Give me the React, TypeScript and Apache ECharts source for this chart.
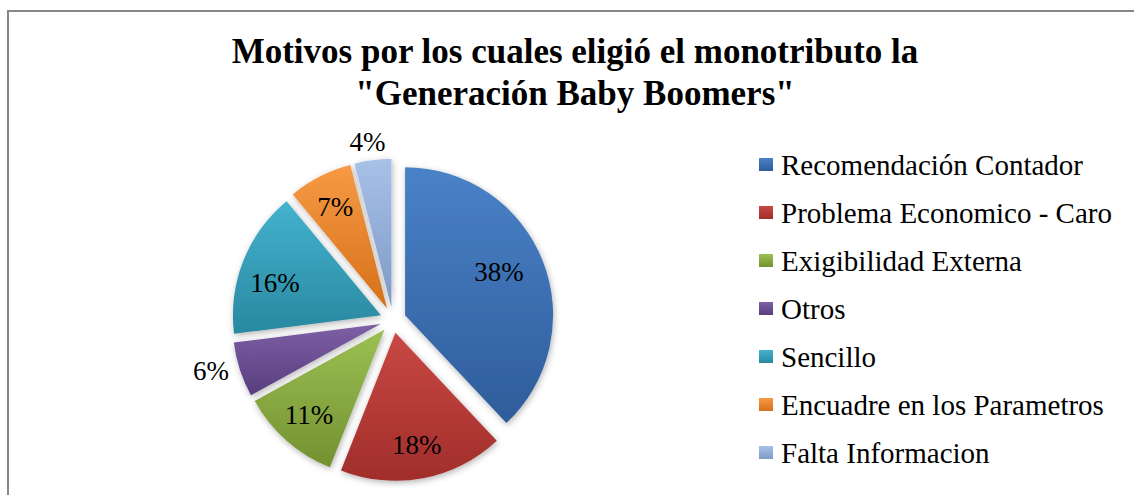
import React, { useEffect, useRef } from "react";
import * as echarts from "echarts";

const titleText = 'Motivos por los cuales eligió el monotributo la\n"Generación Baby Boomers"';
const categories = [
  "Recomendación Contador",
  "Problema Economico - Caro",
  "Exigibilidad Externa",
  "Otros",
  "Sencillo",
  "Encuadre en los Parametros",
  "Falta Informacion",
];
const values = [38, 18, 11, 6, 16, 7, 4];
const lightColors = ["#4a82c8", "#c94844", "#9cc053", "#7d60a5", "#44b2cf", "#f79a44", "#a7c1e8"];
const darkColors = ["#2e5c9a", "#a02e2b", "#739130", "#583d7e", "#29889f", "#d6701a", "#7d99c6"];

const SERIF = "'Liberation Serif', 'Times New Roman', serif";

export default function App() {
  const ref = useRef<HTMLDivElement>(null);
  useEffect(() => {
    if (!ref.current) return;
    const chart = echarts.init(ref.current, undefined, { renderer: "svg" });
    const grad = (i: number) =>
      new echarts.graphic.LinearGradient(0, 0, 0, 1, [
        { offset: 0, color: lightColors[i] },
        { offset: 1, color: darkColors[i] },
      ]);
    const visualData = categories.map((name, i) => ({
      name,
      value: values[i],
      selected: true,
      itemStyle: { color: grad(i) },
    }));
    const labelData = categories.map((name, i) => {
      const item: any = { name, value: values[i], selected: true };
      if (name === "Otros") {
        item.label = { position: "outside" };
        item.labelLine = { show: false, length: 3, length2: 3 };
      }
      if (name === "Falta Informacion") {
        item.label = { position: "outside" };
        item.labelLine = { show: false, length: 2, length2: 0 };
      }
      return item;
    });
    const pieCommon = {
      type: "pie" as const,
      center: [393, 320],
      startAngle: 90,
      clockwise: true,
      selectedMode: "multiple" as const,
      selectedOffset: 13,
      avoidLabelOverlap: false,
      emphasis: { scale: false },
    };
    chart.setOption({
      animation: false,
      graphic: [
        {
          type: "rect",
          shape: { x: 8, y: 11, width: 1160, height: 520 },
          style: { fill: "none", stroke: "#878787", lineWidth: 2 },
          silent: true,
        },
        {
          type: "text",
          x: 575,
          y: 30,
          style: {
            text: titleText,
            font: `bold 35px ${SERIF}`,
            fill: "#000",
            align: "center",
            verticalAlign: "top",
            lineHeight: 42,
          },
        },
      ],
      legend: {
        orient: "vertical",
        left: 759,
        top: 150,
        padding: 0,
        itemWidth: 14,
        itemHeight: 13,
        itemGap: 19,
        icon: "rect",
        selectedMode: false,
        data: categories,
        textStyle: {
          fontFamily: SERIF,
          fontSize: 29,
          lineHeight: 29,
          color: "#000",
          padding: [0, 0, 0, 3],
        },
      },
      series: [
        {
          ...pieCommon,
          name: "slices",
          radius: [0, 148],
          label: { show: false },
          labelLine: { show: false },
          itemStyle: {
            shadowBlur: 6,
            shadowColor: "rgba(0,0,0,0.3)",
            shadowOffsetX: 1,
            shadowOffsetY: 2,
          },
          data: visualData,
        },
        {
          ...pieCommon,
          name: "labels",
          radius: [74, 148],
          silent: true,
          legendHoverLink: false,
          itemStyle: { color: "rgba(0,0,0,0)" },
          label: {
            show: true,
            position: "inside",
            formatter: "{d}%",
            fontFamily: SERIF,
            fontSize: 27,
            color: "#000",
          },
          labelLine: { show: false },
          labelLayout: (p: any) => {
            if (p.dataIndex === 0) return { dx: -12, dy: -1 };
            if (p.dataIndex === 4) return { dy: 10 };
            if (p.dataIndex === 6) return { dx: 18, dy: -16 };
            return {};
          },
          data: labelData,
        },
      ],
    });
    return () => chart.dispose();
  }, []);
  return (
    <div
      ref={ref}
      style={{ position: "absolute", left: 0, top: 0, width: 1134, height: 495, background: "#fff" }}
    />
  );
}
